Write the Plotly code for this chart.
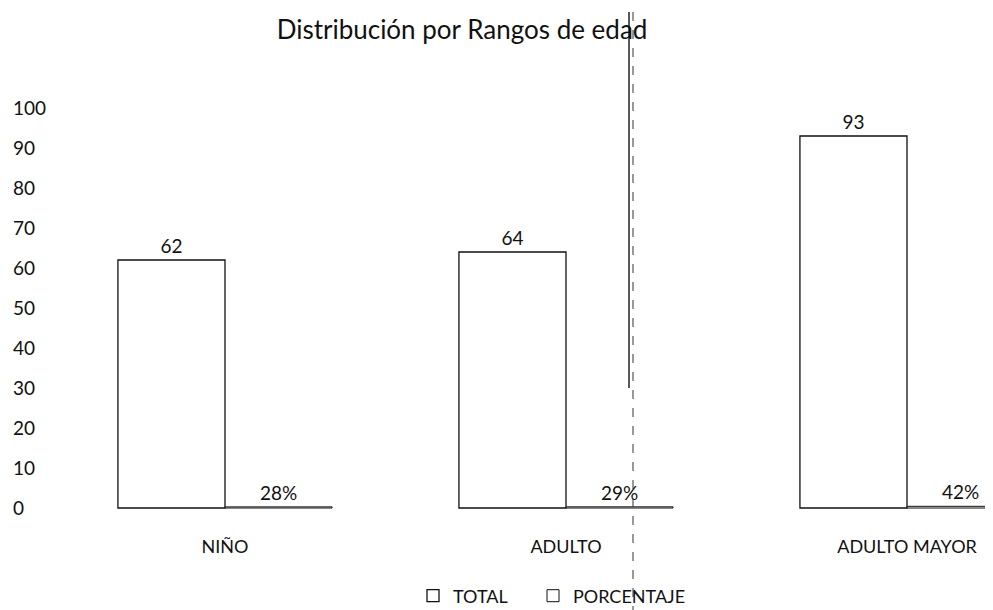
import plotly.graph_objects as go

categories = ["NIÑO", "ADULTO", "ADULTO MAYOR"]
total = [62, 64, 93]
porcentaje = [0.28, 0.29, 0.42]
y_ticks = [0, 10, 20, 30, 40, 50, 60, 70, 80, 90, 100]
title_text = "Distribución por Rangos de edad"

OFF = 8                      # default page body margin of the html page
W, H = 993 - OFF, 610 - OFF  # figure size so that it fits the window

def sx(p):                   # window pixel -> figure pixel
    return p - OFF

Y0_PX, Y100_PX = sx(508), sx(108)
Y_MIN, Y_MAX = -3, 105
PPU = (Y0_PX - Y100_PX) / 100.0
T = Y0_PX - Y_MAX * PPU
B = H - (Y0_PX - Y_MIN * PPU)
L, R = 2, 0
plot_w = W - L - R
plot_h = H - T - B
CAT0_PX, CAT_STEP = sx(225), 341
FONT = "Lato, 'Open Sans', sans-serif"

def px_x(p):
    return (sx(p) - L) / plot_w

def px_y(p):
    return (H - B - sx(p)) / plot_h

fig = go.Figure()
fig.add_trace(go.Bar(
    name="TOTAL", x=categories, y=total,
    marker=dict(color="white", line=dict(color="#111111", width=1.3)),
    text=[str(v) for v in total], textposition="outside",
    textfont=dict(size=19, color="#111111", family=FONT),
    cliponaxis=False, legendwidth=75,
))
fig.add_trace(go.Bar(
    name="PORCENTAJE", x=categories, y=porcentaje,
    marker=dict(color="white", line=dict(color="#111111", width=1.0)),
    texttemplate="%{y:.0%}", textposition="outside",
    textfont=dict(size=19, color="#111111", family=FONT),
    cliponaxis=False,
))

fig.update_layout(
    width=W, height=H,
    margin=dict(l=L, r=R, t=T, b=B, autoexpand=False),
    paper_bgcolor="white", plot_bgcolor="white",
    barmode="group", bargap=0.372, bargroupgap=0.0,
    font=dict(family=FONT, color="#111111"),
    title=dict(text=title_text, x=sx(462) / W, xanchor="center",
               y=1 - sx(30) / H, yanchor="middle",
               font=dict(size=26, family=FONT, color="#111111")),
    showlegend=True,
    legend=dict(orientation="h", x=px_x(413), xanchor="left",
                y=px_y(596), yanchor="middle",
                font=dict(size=18, family=FONT, color="#111111"),
                bgcolor="rgba(0,0,0,0)", itemwidth=30),
    xaxis=dict(type="category",
               range=[(L - CAT0_PX) / CAT_STEP, (W - R - CAT0_PX) / CAT_STEP],
               showgrid=False, showline=False, zeroline=False, ticks="",
               automargin=False, ticklabelstandoff=14,
               tickfont=dict(size=18, family=FONT, color="#111111")),
    yaxis=dict(range=[Y_MIN, Y_MAX], tickvals=y_ticks,
               ticktext=[str(v) for v in y_ticks],
               ticklabelposition="inside", showgrid=False, showline=False,
               zeroline=False, ticks="", automargin=False,
               tickfont=dict(size=19, family=FONT, color="#111111")),
    shapes=[
        dict(type="line", xref="paper", yref="paper",
             x0=px_x(629), x1=px_x(629), y0=px_y(12), y1=px_y(388),
             line=dict(color="#222222", width=1.5)),
        dict(type="line", xref="paper", yref="paper",
             x0=px_x(633), x1=px_x(633), y0=px_y(12), y1=px_y(610),
             line=dict(color="#333333", width=1, dash="dash")),
    ],
)

fig.write_html("out.html")
